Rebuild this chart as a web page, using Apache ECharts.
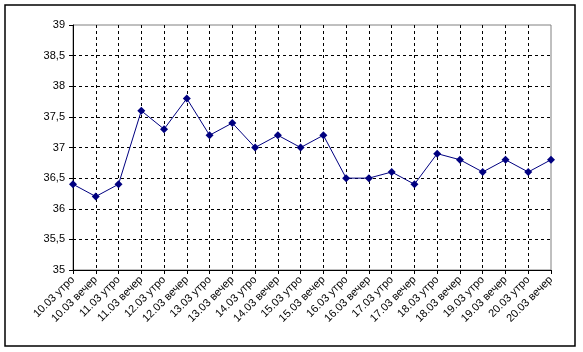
<!DOCTYPE html>
<html><head><meta charset="utf-8">
<script src="https://cdn.jsdelivr.net/npm/echarts@6/dist/echarts.min.js"></script>
<style>html,body{margin:0;padding:0;background:#fff}#c{width:583px;height:352px}</style>
</head><body><div id="c"></div>
<script>
const categories = ["10.03 утро","10.03 вечер","11.03 утро","11.03 вечер","12.03 утро","12.03 вечер","13.03 утро","13.03 вечер","14.03 утро","14.03 вечер","15.03 утро","15.03 вечер","16.03 утро","16.03 вечер","17.03 утро","17.03 вечер","18.03 утро","18.03 вечер","19.03 утро","19.03 вечер","20.03 утро","20.03 вечер"];
const temperature = [36.4,36.2,36.4,37.6,37.3,37.8,37.2,37.4,37.0,37.2,37.0,37.2,36.5,36.5,36.6,36.4,36.9,36.8,36.6,36.8,36.6,36.8];
const yMin = 35, yMax = 39, yStep = 0.5;

const chart = echarts.init(document.getElementById('c'), null, {renderer:'canvas'});
chart.setOption({
  animation:false,
  backgroundColor:'#fff',
  graphic:[{type:'rect',shape:{x:5,y:5,width:570,height:341},style:{fill:'none',stroke:'#000',lineWidth:1.5},silent:true}],
  grid:{left:73,right:32,top:25,bottom:82,show:true,borderColor:'#808080',borderWidth:1,backgroundColor:'transparent'},
  xAxis:{type:'category',data:categories,boundaryGap:false,
    axisLine:{lineStyle:{color:'#000',width:1}},
    axisTick:{show:true,alignWithLabel:true,length:4,lineStyle:{color:'#000'}},
    axisLabel:{rotate:45,fontFamily:'Liberation Sans, Arial',fontSize:11,color:'#000',margin:8,interval:0},
    splitLine:{show:true,showMinLine:false,showMaxLine:false,lineStyle:{color:'#000',type:[3,3],width:1}}
  },
  yAxis:{type:'value',min:yMin,max:yMax,interval:yStep,
    axisLine:{show:true,lineStyle:{color:'#000',width:1}},
    axisTick:{show:true,length:4,lineStyle:{color:'#000'}},
    axisLabel:{fontFamily:'Liberation Sans, Arial',fontSize:11,color:'#000',margin:8,
      formatter:v=>String(v).replace('.',',')},
    splitLine:{show:true,showMinLine:false,showMaxLine:false,lineStyle:{color:'#000',type:[3,3],width:1}}
  },
  series:[{type:'line',data:temperature,symbol:'diamond',symbolSize:8,
    lineStyle:{color:'#000080',width:1},itemStyle:{color:'#000080'}}]
});
</script></body></html>
